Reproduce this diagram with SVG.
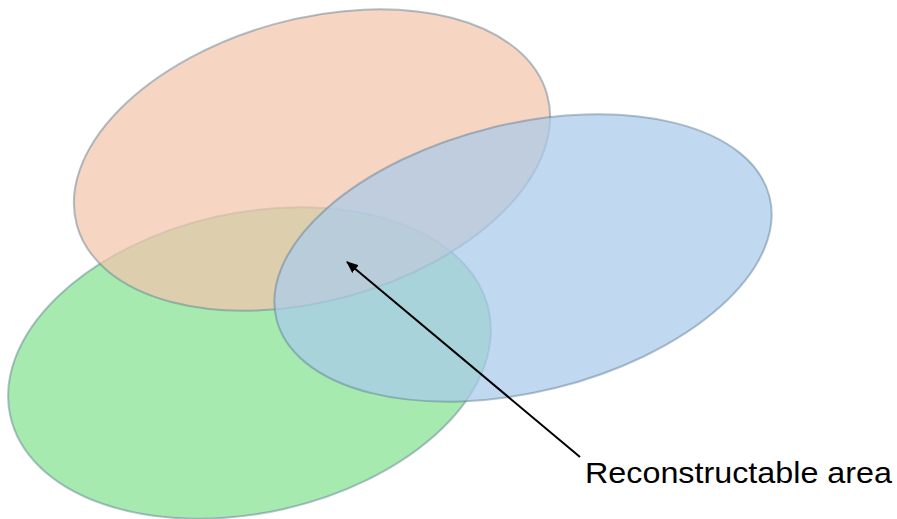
<svg xmlns="http://www.w3.org/2000/svg" width="897" height="519" viewBox="0 0 897 519">
  <defs>
    <style>
      .shape { stroke: #56788E; stroke-opacity: 0.45; stroke-width: 2; fill-opacity: 0.72; }
      .label { font-family: "Liberation Sans", "Noto Sans CJK JP", sans-serif; font-size: 29px; fill: #000; }
      .conn { stroke: #000; stroke-width: 2; fill: none; }
    </style>
    <marker id="arrow" viewBox="0 0 12 10" refX="11" refY="5" markerWidth="12" markerHeight="10" markerUnits="userSpaceOnUse" orient="auto">
      <path d="M0,0 L12,5 L0,10 Z" fill="#000"/>
    </marker>
  </defs>
  <rect width="897" height="519" fill="#fff"/>
  <g id="green">
    <ellipse class="shape" cx="249.5" cy="363" rx="245" ry="150" transform="rotate(-12.5 249.5 363)" fill="#85E291"/>
  </g>
  <g id="orange">
    <ellipse class="shape" cx="312" cy="160" rx="244" ry="141" transform="rotate(-15.5 312 160)" fill="#F3C5AC"/>
  </g>
  <g id="blue">
    <ellipse class="shape" cx="523" cy="258" rx="254" ry="134" transform="rotate(-13.9 523 258)" fill="#A9CAEA"/>
  </g>
  <g id="connectors">
    <line class="conn" x1="580" y1="457" x2="347" y2="262" marker-end="url(#arrow)"/>
  </g>
  <g id="label">
    <text class="label" x="585" y="483" textLength="307" lengthAdjust="spacingAndGlyphs">Reconstructable area</text>
  </g>
</svg>
